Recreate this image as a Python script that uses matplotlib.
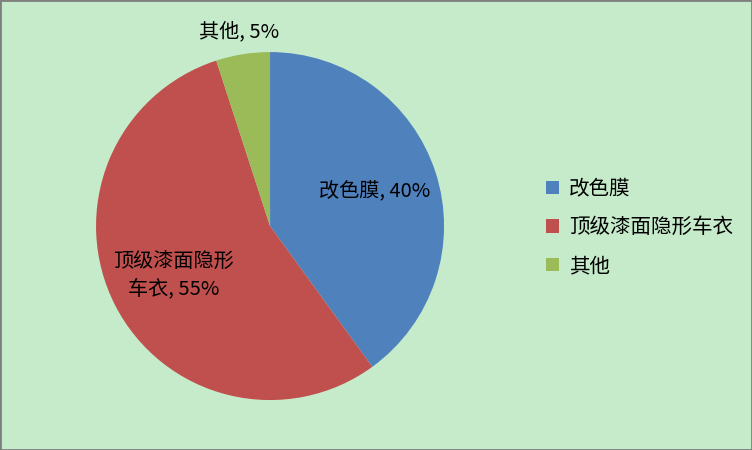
import matplotlib
matplotlib.use("Agg")
import matplotlib.pyplot as plt
import numpy as np
from matplotlib.patches import Patch, Rectangle

plt.rcParams['font.family'] = ['Noto Sans CJK SC', 'DejaVu Sans']

categories = ["改色膜", "顶级漆面隐形车衣", "其他"]
label_texts = ["改色膜", "顶级漆面隐形\n车衣", "其他"]
values = [40, 55, 5]
colors = ["#4F81BD", "#C0504D", "#9BBB59"]
bg = "#C6EBCB"

fig = plt.figure(figsize=(7.52, 4.50), dpi=100)
fig.patch.set_facecolor(bg)
fig.patches.append(Rectangle((0, 0), 1, 1, transform=fig.transFigure, fill=False,
                             edgecolor="#7F7F7F", linewidth=2, zorder=10))

ax = fig.add_axes([0.1277, 0.111, 0.4628, 0.7733])
ax.set_facecolor(bg)
wedges, _ = ax.pie(values, colors=colors, startangle=90, counterclock=False,
                   wedgeprops=dict(linewidth=0))
ax.set_aspect('equal')
ax.set_xlim(-1, 1)
ax.set_ylim(-1, 1)

dists = [0.63, 0.62, 1.13]
total = sum(values)
for w, lab, v, d in zip(wedges, label_texts, values, dists):
    mid = np.deg2rad((w.theta1 + w.theta2) / 2)
    ax.text(d * np.cos(mid), d * np.sin(mid), f"{lab}, {round(100 * v / total)}%",
            ha='center', va='center', fontsize=14.5, color='black',
            multialignment='center', linespacing=1.35)

handles = [Patch(facecolor=c, edgecolor='none') for c in colors]
fig.legend(handles, categories, loc='center left', bbox_to_anchor=(0.702, 0.495),
           frameon=False, fontsize=14.8, handlelength=0.6, handleheight=0.6,
           handletextpad=0.5, labelspacing=0.82)

fig.savefig("out.png", dpi=100, facecolor=bg)
